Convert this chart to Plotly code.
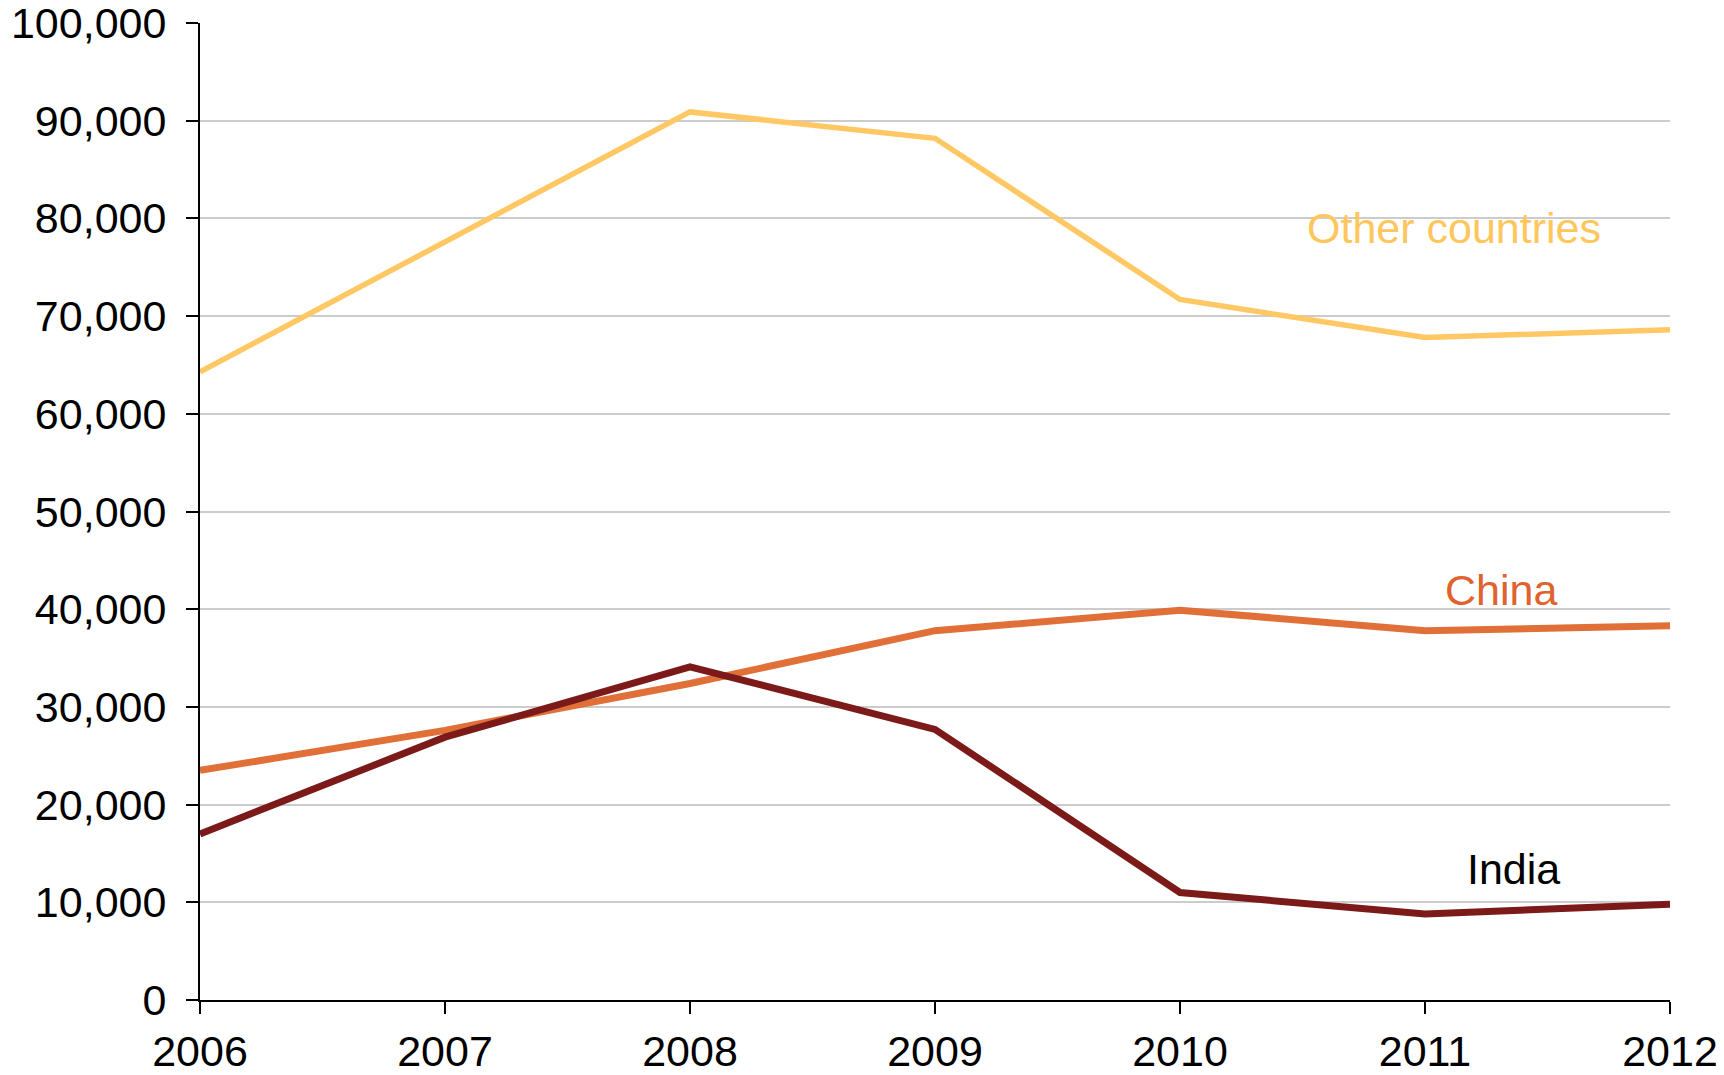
import plotly.graph_objects as go

years = [2006, 2007, 2008, 2009, 2010, 2011, 2012]
other_countries = [64300, 77600, 90900, 88200, 71700, 67800, 68600]
china = [23500, 27600, 32400, 37800, 39900, 37800, 38300]
india = [17000, 26900, 34100, 27700, 11000, 8800, 9800]

y_ticks = list(range(0, 100001, 10000))
y_labels = [f"{v:,}" for v in y_ticks]

FONT = "Liberation Sans, Arial, sans-serif"
FS = 43

fig = go.Figure()
fig.add_trace(go.Scatter(x=years, y=other_countries, mode="lines", name="Other countries",
                         line=dict(color="#FFC864", width=5.5)))
fig.add_trace(go.Scatter(x=years, y=china, mode="lines", name="China",
                         line=dict(color="#E07038", width=7)))
fig.add_trace(go.Scatter(x=years, y=india, mode="lines", name="India",
                         line=dict(color="#7B1A18", width=7)))

fig.add_annotation(x=2011.12, y=79000, text="Other countries", showarrow=False,
                   font=dict(family=FONT, size=FS, color="#FFC65C"))
fig.add_annotation(x=2011.31, y=42000, text="China", showarrow=False,
                   font=dict(family=FONT, size=FS, color="#E0622C"))
fig.add_annotation(x=2011.36, y=13400, text="India", showarrow=False,
                   font=dict(family=FONT, size=FS, color="#000000"))

fig.update_layout(
    width=1716, height=1067,
    margin=dict(l=192, r=54, t=15, b=75, autoexpand=False),
    paper_bgcolor="white", plot_bgcolor="white",
    showlegend=False,
    font=dict(family=FONT, size=FS, color="black"),
    xaxis=dict(range=[2006, 2012], tickvals=years, ticktext=[str(y) for y in years],
               showgrid=False, zeroline=False, showline=True, linecolor="black", linewidth=2,
               ticks="outside", ticklen=12, tickwidth=2, tickcolor="black", automargin=False,
               ticklabeloverflow="allow",
               tickfont=dict(family=FONT, size=FS, color="black")),
    yaxis=dict(range=[0, 100000], tickvals=y_ticks, ticktext=y_labels,
               showgrid=True, gridcolor="#CCCCCC", gridwidth=1.5, zeroline=False,
               showline=True, linecolor="black", linewidth=2, automargin=False,
               ticks="outside", ticklen=12, tickwidth=2, tickcolor="black",
               ticklabeloverflow="allow", ticklabelstandoff=11,
               tickfont=dict(family=FONT, size=FS, color="black")),
)

fig.write_html("out.html")
